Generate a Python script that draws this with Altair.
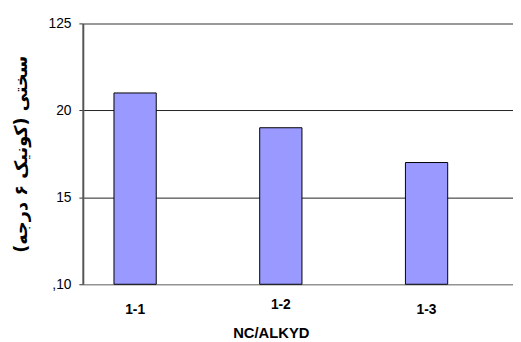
import altair as alt
import pandas as pd

categories = ["1-1", "1-2", "1-3"]
hardness = [21, 19, 17]
y_ticks = [10, 15, 20, 25]
y_base = 10

df = pd.DataFrame({"cat": categories, "val": hardness})

chart = alt.Chart(df).mark_bar(color="#9999FF", stroke="#000000", strokeWidth=1).encode(
    x=alt.X("cat:N", sort=categories,
            scale=alt.Scale(paddingInner=0.71, paddingOuter=0.331, align=0.323),
            axis=alt.Axis(title="NC/ALKYD", labelAngle=0, tickSize=0,
                          domainColor="#888888", domainWidth=1,
                          labelFont="Liberation Sans", labelFontWeight="bold", labelFontSize=14,
                          labelColor="#000000", labelBaseline="middle",
                          labelPadding={"condition": {"test": "datum.value == '1-2'", "value": 21},
                                        "value": 26},
                          titleFont="Liberation Sans", titleFontWeight="bold", titleFontSize=15,
                          titleColor="#000000", titleX=191, titleY=49, titleBaseline="middle",
                          titleAlign="center")),
    y=alt.Y("val:Q", scale=alt.Scale(domain=[10, 25], nice=False, zero=False),
            axis=alt.Axis(title="سختی (کونیک ۶ درجه)", values=y_ticks,
                          labelExpr="datum.value == 25 ? '125' : datum.value == 10 ? ',10' : datum.label",
                          tickSize=4, tickColor="#333333", labelPadding=8,
                          labelFont="Liberation Sans", labelFontSize=14, labelColor="#000000",
                          domainColor="#555555", domainWidth=2,
                          grid=True,
                          gridColor={"condition": {"test": "datum.value == 25 || datum.value == 10", "value": "#999999"},
                                     "value": "#222222"},
                          gridWidth={"condition": {"test": "datum.value == 25", "value": 2}, "value": 1},
                          titleFont="DejaVu Sans", titleFontWeight="bold", titleFontSize=18,
                          titleColor="#000000", titleX=-62, titleY=132.5, titleAngle=270,
                          titleAlign="center", titleBaseline="middle")),
    y2=alt.datum(y_base),
).properties(
    width=437, height=265,
    padding={"left": 76, "top": 13, "right": 0, "bottom": 56},
    autosize=alt.AutoSizeParams(type="none"),
).configure_view(stroke=None).configure(background="#ffffff")

chart.save("out.html", embed_options={"renderer": "svg", "actions": False})
